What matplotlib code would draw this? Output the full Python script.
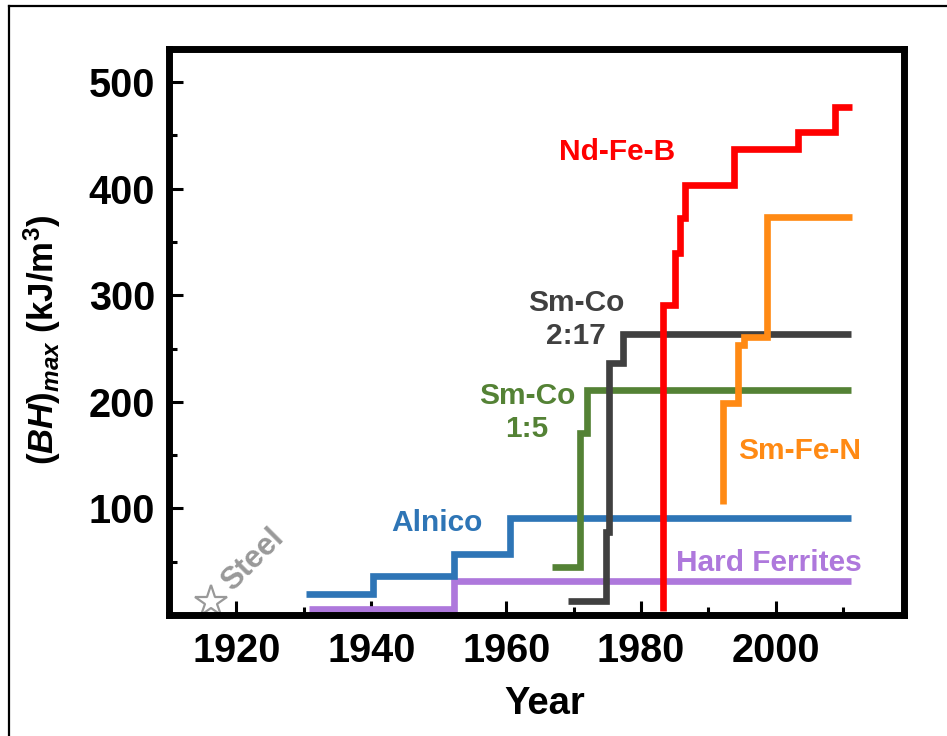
#!/usr/bin/env python3
"""Step plot of record (BH)max of permanent-magnet families versus year."""

import matplotlib

matplotlib.use("Agg")
import matplotlib.pyplot as plt
from matplotlib.lines import Line2D
from matplotlib.ticker import MultipleLocator

plt.rcParams["font.family"] = ["Liberation Sans", "DejaVu Sans"]
plt.rcParams["font.weight"] = "bold"
plt.rcParams["mathtext.fontset"] = "custom"
plt.rcParams["mathtext.rm"] = "Liberation Sans:bold"
plt.rcParams["mathtext.it"] = "Liberation Sans:bold:italic"
plt.rcParams["mathtext.bf"] = "Liberation Sans:bold"

# step records: year at which each level starts, last entry closes the line
alnico_years = [1930.3, 1940.3, 1952.3, 1960.5, 2011.2]
alnico_bh = [20, 37, 57, 91, 91]

ferrite_years = [1930.8, 1952.3, 2011.2]
ferrite_bh = [6, 32, 32]

smco15_years = [1966.8, 1971.0, 1972.0, 2011.2]
smco15_bh = [45, 171, 211, 211]

smco217_years = [1969.1, 1974.8, 1975.3, 1977.4, 2011.2]
smco217_bh = [13, 78, 236, 264, 264]

ndfeb_years = [1983.3, 1983.3, 1985.0, 1985.8, 1986.5, 1993.8, 2003.3, 2008.7, 2011.3]
ndfeb_bh = [4, 291, 340, 372, 403, 437, 453, 477, 477]

smfen_years = [1992.1, 1992.1, 1994.4, 1995.3, 1998.7, 2011.3]
smfen_bh = [104, 199, 253, 261, 373, 373]

steel_year = [1916.3]
steel_bh = [12]

series = [
    (ferrite_years, ferrite_bh, "#AE78DC"),
    (alnico_years, alnico_bh, "#2E75B6"),
    (smco15_years, smco15_bh, "#548235"),
    (smco217_years, smco217_bh, "#404040"),
    (smfen_years, smfen_bh, "#FF8A14"),
    (ndfeb_years, ndfeb_bh, "#FF0000"),
]

fig = plt.figure(figsize=(9.47, 7.36), dpi=100)
ax = fig.add_axes([169 / 947, 1 - 615 / 736, (904 - 169) / 947, (615 - 49) / 736])

for years, values, color in series:
    ax.plot(years, values, drawstyle="steps-post", color=color, linewidth=4.8,
            solid_joinstyle="miter", solid_capstyle="butt")

ax.plot(steel_year, steel_bh, marker="*", markersize=24, markerfacecolor="white",
        markeredgecolor="#999999", markeredgewidth=1.6, linestyle="none")

label_kw = dict(fontsize=21.5, fontweight="bold", ha="center", va="center",
                linespacing=1.25)
ax.text(1976.5, 434, "Nd-Fe-B", color="#FF0000", **label_kw)
ax.text(1970.4, 277, "Sm-Co\n2:17", color="#404040", **label_kw)
ax.text(1963.1, 190, "Sm-Co\n1:5", color="#548235", **label_kw)
ax.text(1949.8, 86, "Alnico", color="#2E75B6", **label_kw)
ax.text(2003.5, 154, "Sm-Fe-N", color="#FF8A14", **label_kw)
ax.text(1999.0, 49, "Hard Ferrites", color="#AE78DC", **label_kw)
ax.text(1922.5, 52, "Steel", color="#999999", rotation=45,
        **{**label_kw, "fontsize": 22.5})

ax.set_xlim(1910, 2019)
ax.set_ylim(0, 531)
ax.set_xticks([1920, 1940, 1960, 1980, 2000])
ax.xaxis.set_minor_locator(MultipleLocator(10))
ax.set_yticks([100, 200, 300, 400, 500])
ax.yaxis.set_minor_locator(MultipleLocator(50))

ax.tick_params(which="both", direction="in", width=2.2, labelsize=28.5)
ax.tick_params(which="major", length=10)
ax.tick_params(which="minor", length=6)
ax.tick_params(axis="x", which="major", pad=12)
ax.tick_params(axis="y", which="major", pad=10)
for label in ax.get_xticklabels() + ax.get_yticklabels():
    label.set_fontweight("bold")

for spine in ax.spines.values():
    spine.set_linewidth(5)

ax.set_xlabel("Year", fontsize=27.5, fontweight="bold")
ax.xaxis.set_label_coords((545 - 169) / (904 - 169), -(686 - 615) / (615 - 49))
ax.set_ylabel(r"$\mathit{(BH)_{max}}$ (kJ/m$^3$)", fontsize=25, fontweight="bold")
ax.yaxis.set_label_coords(-(169 - 42) / (904 - 169), (615 - 340) / (615 - 49))
ax.yaxis.label.set_va("center")

# thin outer frame along the top and left edges
fig.add_artist(Line2D([9 / 947, 1.0], [1 - 6 / 736, 1 - 6 / 736],
                      color="black", linewidth=1.6, transform=fig.transFigure))
fig.add_artist(Line2D([9 / 947, 9 / 947], [0.0, 1 - 6 / 736],
                      color="black", linewidth=1.6, transform=fig.transFigure))

fig.savefig("out.png", dpi=100)
plt.close(fig)
